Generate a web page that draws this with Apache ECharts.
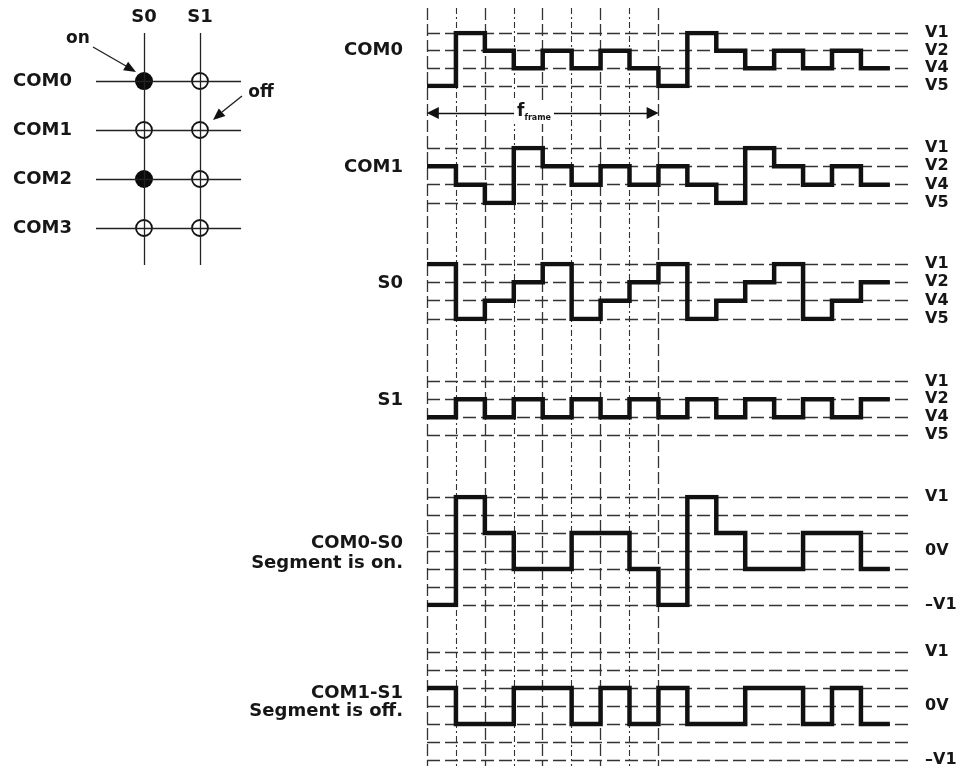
<!DOCTYPE html>
<html><head><meta charset="utf-8">
<script src="https://cdn.jsdelivr.net/npm/echarts@6/dist/echarts.min.js"></script>
<style>html,body{margin:0;padding:0;background:#fff}#c{width:966px;height:773px}</style>
</head><body><div id="c"></div>
<script>
// ---------- data ----------
const levelNames = ['V5', 'V4', 'V2', 'V1'];          // bottom -> top
const diffLabels = ['–V1', '', '', '0V', '', '', 'V1']; // -3 .. 3
const COM0 = ['V5','V1','V2','V4','V2','V4','V2','V4','V5','V1','V2','V4','V2','V4','V2','V4'];
const COM1 = ['V2','V4','V5','V1','V2','V4','V2','V4','V2','V4','V5','V1','V2','V4','V2','V4'];
const S0   = ['V1','V5','V4','V2','V1','V5','V4','V2','V1','V5','V4','V2','V1','V5','V4','V2'];
const S1   = ['V4','V2','V4','V2','V4','V2','V4','V2','V4','V2','V4','V2','V4','V2','V4','V2'];
const COM0_S0 = [-3, 3, 1, -1, -1, 1, 1, -1, -3, 3, 1, -1, -1, 1, 1, -1];
const COM1_S1 = [1, -1, -1, 1, 1, -1, 1, -1, 1, -1, -1, 1, 1, -1, 1, -1];
const frameSlots = [0, 1, 2, 3, 4, 5, 6, 7, 8];
const matrixCols = ['S0', 'S1'];
const matrixRows = ['COM0', 'COM1', 'COM2', 'COM3'];
const matrixOn = [[1, 0], [0, 0], [1, 0], [0, 0]];
const leftLabels = ['COM0', 'COM1', 'S0', 'S1', 'COM0-S0', 'Segment is on.', 'COM1-S1', 'Segment is off.'];

// ---------- layout / style ----------
const FONT = 'DejaVu Sans';
const TXT = '#161616';
const XMAX = 16.8;
const leftLabelY = [50, 167, 283, 400, 543, 563, 693, 711];
const panels = [
  { sig: COM0, kind: 'lvl', top: 33, h: 53 },
  { sig: COM1, kind: 'lvl', top: 148, h: 55 },
  { sig: S0, kind: 'lvl', top: 264, h: 55 },
  { sig: S1, kind: 'lvl', top: 381.5, h: 53.5 },
  { sig: COM0_S0, kind: 'diff', top: 497, h: 108 },
  { sig: COM1_S1, kind: 'diff', top: 652, h: 108 }
];

function toNum(v, kind) { return kind === 'lvl' ? levelNames.indexOf(v) : v; }
function steps(arr, kind) {
  const pts = arr.map((v, i) => [i, toNum(v, kind)]);
  pts.push([arr.length, toNum(arr[arr.length - 1], kind)]);
  return pts;
}

const grid = [], xAxis = [], yAxis = [], series = [];
// background grid for vertical time lines & frame arrow
grid.push({ left: 427, right: 53, top: 8, bottom: 7, outerBoundsMode: 'none' });
xAxis.push({ gridIndex: 0, type: 'value', min: 0, max: XMAX, show: false });
yAxis.push({ gridIndex: 0, type: 'value', min: 8, max: 766, inverse: true, show: false });
series.push({
  type: 'line', xAxisIndex: 0, yAxisIndex: 0, data: [], silent: true,
  markLine: { silent: true, symbol: 'none', label: { show: false }, animation: false,
    lineStyle: { color: '#333', width: 1.3, type: [12, 4] },
    data: frameSlots.filter(i => i % 2 === 0).map(i => ({ xAxis: i })) }
});
series.push({
  type: 'line', xAxisIndex: 0, yAxisIndex: 0, data: [], silent: true,
  markLine: { silent: true, symbol: 'none', label: { show: false }, animation: false,
    lineStyle: { color: '#333', width: 1.1, type: [6, 3, 2, 3] },
    data: frameSlots.filter(i => i % 2 === 1).map(i => ({ xAxis: i })) }
});
series.push({
  type: 'line', xAxisIndex: 0, yAxisIndex: 0, data: [], silent: true, z: 4,
  markLine: { silent: true, symbol: ['triangle', 'triangle'], symbolSize: 12, label: { show: false }, animation: false,
    lineStyle: { color: '#111', width: 1.3, type: 'solid', opacity: 1 },
    itemStyle: { color: '#111' },
    data: [[{ coord: [0.2, 113] }, { coord: [7.8, 113] }]] }
});

panels.forEach((p, k) => {
  const gi = k + 1;
  grid.push({ left: 427, right: 53, top: p.top, height: p.h, outerBoundsMode: 'none' });
  xAxis.push({ gridIndex: gi, type: 'value', min: 0, max: XMAX, show: false });
  const isL = p.kind === 'lvl';
  yAxis.push({
    gridIndex: gi, type: 'value', position: 'right',
    min: isL ? 0 : -3, max: isL ? 3 : 3, interval: 1,
    axisLine: { show: false }, axisTick: { show: false },
    axisLabel: { margin: 12, color: TXT, fontFamily: FONT, fontWeight: 'bold', fontSize: 16,
      formatter: v => isL ? levelNames[v] : diffLabels[v + 3] },
    splitLine: { show: true, lineStyle: { color: '#333', width: 1.3, type: [13, 5] } }
  });
  series.push({
    type: 'line', xAxisIndex: gi, yAxisIndex: gi, step: 'end', symbol: 'none', z: 5,
    data: steps(p.sig, p.kind),
    lineStyle: { color: '#111', width: 4.5, join: 'miter', opacity: 1 }
  });
});

// matrix diagram
const mi = grid.length;
grid.push({ left: 96, right: 725, top: 33, bottom: 508, outerBoundsMode: 'none' });
xAxis.push({ gridIndex: mi, type: 'value', min: -0.857, max: 1.732, position: 'top',
  axisLine: { show: false }, axisTick: { show: false }, splitLine: { show: false },
  axisLabel: { customValues: [0, 1], margin: 7, color: TXT, fontFamily: FONT, fontWeight: 'bold', fontSize: 18,
    formatter: v => matrixCols[v] } });
yAxis.push({ gridIndex: mi, type: 'value', min: -0.98, max: 3.755, inverse: true,
  axisLine: { show: false }, axisTick: { show: false }, splitLine: { show: false },
  axisLabel: { customValues: [0, 1, 2, 3], margin: 24, color: TXT, fontFamily: FONT, fontWeight: 'bold', fontSize: 18,
    formatter: v => matrixRows[v] } });
series.push({
  type: 'scatter', xAxisIndex: mi, yAxisIndex: mi, data: [], silent: true, z: 1,
  markLine: { silent: true, symbol: 'none', label: { show: false }, animation: false,
    lineStyle: { color: '#222', width: 1.3, type: 'solid' },
    data: matrixCols.map((c, i) => ({ xAxis: i })).concat(matrixRows.map((r, j) => ({ yAxis: j }))) }
});
const onPts = [], offPts = [];
matrixOn.forEach((row, j) => row.forEach((s, i) => (s ? onPts : offPts).push([i, j])));
series.push({ type: 'scatter', xAxisIndex: mi, yAxisIndex: mi, data: onPts, symbol: 'circle', symbolSize: 18, z: 3,
  itemStyle: { color: '#0a0a0a', opacity: 1 } });
series.push({ type: 'scatter', xAxisIndex: mi, yAxisIndex: mi, data: offPts, symbol: 'circle', symbolSize: 16, z: 3,
  itemStyle: { color: 'rgba(0,0,0,0)', borderColor: '#111', borderWidth: 1.8, opacity: 1 } });

// annotations
const graphic = [];
leftLabels.forEach((t, i) => graphic.push({
  type: 'text', x: 403, y: leftLabelY[i], z: 10,
  style: { text: t, fill: TXT, font: 'bold 18px "' + FONT + '"', align: 'right', verticalAlign: 'middle' }
}));
graphic.push({ type: 'text', x: 534, y: 112, z: 10,
  style: { text: '{f|f}{s|frame}', align: 'center', verticalAlign: 'middle', backgroundColor: '#fff', padding: [2, 3],
    rich: { f: { fontFamily: FONT, fontWeight: 'bold', fontSize: 17, fill: TXT, lineHeight: 20 },
            s: { fontFamily: FONT, fontWeight: 'bold', fontSize: 8, fill: TXT, lineHeight: 10, verticalAlign: 'bottom' } } } });
graphic.push({ type: 'text', x: 78, y: 39, z: 10,
  style: { text: 'on', fill: TXT, font: 'bold 17px "' + FONT + '"', align: 'center', verticalAlign: 'middle' } });
graphic.push({ type: 'text', x: 261, y: 93, z: 10,
  style: { text: 'off', fill: TXT, font: 'bold 17px "' + FONT + '"', align: 'center', verticalAlign: 'middle' } });
graphic.push({ type: 'line', z: 10, shape: { x1: 93, y1: 47, x2: 126, y2: 66 }, style: { stroke: '#222', lineWidth: 1.4 } });
graphic.push({ type: 'polygon', z: 10, shape: { points: [[136, 72], [123.1, 70.3], [128.1, 61.7]] }, style: { fill: '#111' } });
graphic.push({ type: 'line', z: 10, shape: { x1: 242, y1: 96, x2: 222, y2: 112 }, style: { stroke: '#222', lineWidth: 1.4 } });
graphic.push({ type: 'polygon', z: 10, shape: { points: [[213, 120], [225.4, 116], [218.8, 108.4]] }, style: { fill: '#111' } });

const chart = echarts.init(document.getElementById('c'));
chart.setOption({
  animation: false,
  backgroundColor: '#fff',
  grid, xAxis, yAxis, series, graphic
});
</script></body></html>
